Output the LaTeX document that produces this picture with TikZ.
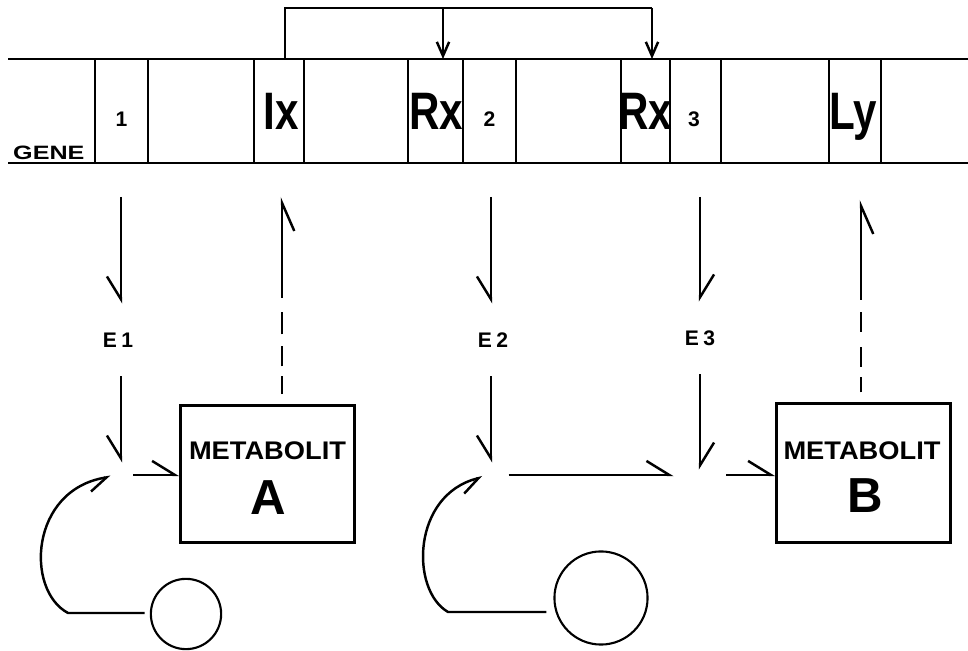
\documentclass[tikz,border=0pt]{standalone}
\usepackage{fontspec}
\setmainfont{Liberation Sans}
\usetikzlibrary{arrows.meta}

\tikzset{
  gene/.style={line width=1.5pt},
  barbL/.style={-{Straight Barb[left,length=13pt,width=16pt]}},
  barbR/.style={-{Straight Barb[right,length=13pt,width=16pt]}},
  loopbarb/.style={-{Straight Barb[right,length=10pt,width=13pt]}},
  upbarb/.style={-{Straight Barb[right,length=16pt,width=14pt]}},
  fullbarb/.style={-{Straight Barb[length=8pt,width=7pt]}},
  bigtag/.style={anchor=base, inner sep=0pt, font=\fontsize{30}{30}\selectfont\bfseries},
  numtag/.style={anchor=base, inner sep=0pt, font=\fontsize{12}{12}\selectfont\bfseries},
  enz/.style={inner sep=0pt, minimum height=40pt, font=\fontsize{12}{12}\selectfont\bfseries},
  metabox/.style={draw, minimum width=99pt, line width=1.4pt},
  metatext/.style={anchor=base, inner sep=0pt, font=\fontsize{14.5}{14.5}\selectfont\bfseries},
  metaletter/.style={anchor=base, inner sep=0pt, font=\fontsize{28}{28}\selectfont\bfseries},
  pool/.style={draw, circle, inner sep=0pt, line width=1.2pt},
}
\newcommand{\narrow}[1]{\scalebox{0.8}[1]{#1}}

\begin{document}
\begin{tikzpicture}[x=0.02cm, y=-0.02cm, line width=1.4pt]
  \useasboundingbox (0,0) rectangle (968,651);

  % gene band
  \draw[gene] (8,59) -- (968,59);
  \draw[gene] (8,163) -- (968,163);
  \foreach \xd in {95,148,254,304,408,463,516,621,670,721,829,881}
    \draw[gene] (\xd,59) -- (\xd,163);

  \node[numtag, anchor=base west, font=\fontsize{11}{11}\selectfont\bfseries] (genetag) at (12,160) {\scalebox{1.3}[1]{GENE}};
  \node[numtag] (g1) at (121.5,127) {1};
  \node[bigtag] (ix) at (281,130) {\narrow{Ix}};
  \node[bigtag] (rxa) at (436,130) {\narrow{Rx}};
  \node[numtag] (g2) at (489.5,127) {2};
  \node[bigtag] (rxb) at (645,130) {\narrow{Rx}};
  \node[numtag] (g3) at (694,127) {3};
  \node[bigtag] (ly) at (853,130) {\narrow{Ly}};

  % regulator bracket on top
  \coordinate (brA) at (285,59);
  \coordinate (brL) at (285,8);
  \coordinate (brM) at (443,8);
  \coordinate (brR) at (652,8);
  \coordinate (rxaTop) at (443,59);
  \coordinate (rxbTop) at (652,59);
  \draw (brA) -- (brL) -- (brR);
  \draw[fullbarb] (brR) -- (rxbTop);
  \draw[fullbarb] (brM) -- (rxaTop);

  % enzymes
  \node[enz] (e1) at (118,340) {E\kern2.5pt 1};
  \node[enz] (e2) at (493,340) {E\kern2.5pt 2};
  \node[enz] (e3) at (700,338) {E\kern2.5pt 3};
  \coordinate (t1) at (121,197);
  \coordinate (t2) at (491,197);
  \coordinate (t3) at (700,197);
  \draw[barbR] (t1) -- (e1.north -| t1);
  \draw[barbR] (t2) -- (e2.north -| t2);
  \draw[barbL] (t3) -- (e3.north);

  % junctions
  \coordinate (j1) at (121,475);
  \coordinate (j2) at (491,475);
  \coordinate (j3) at (700,475);
  \draw[barbR, shorten >=7pt] (e1.south -| j1) -- (j1);
  \draw[barbR, shorten >=7pt] (e2.south -| j2) -- (j2);
  \draw[barbL, shorten >=3pt] (e3.south) -- (j3);

  % metabolites
  \node[metabox, minimum height=78pt] (boxA) at (267.5,474) {};
  \node[metatext] (metA) at (267.5,460) {\scalebox{1.07}[1]{METABOLIT}};
  \node[metaletter] (letA) at (268,515) {A};
  \node[metabox, minimum height=79pt] (boxB) at (863.5,473) {};
  \node[metatext] (metB) at (862,460) {\scalebox{1.07}[1]{METABOLIT}};
  \node[metaletter] (letB) at (865,513) {B};

  \draw[barbL, shorten <=7pt] (j1) -- (boxA.west |- j1);
  \draw[barbL, shorten <=10pt, shorten >=15pt] (j2) -- (j3);
  \draw[barbL, shorten <=15pt] (j3) -- (boxB.west |- j3);

  % feedback from metabolites to the gene band
  \coordinate (mA) at (282,298);
  \coordinate (uA) at (282,197);
  \coordinate (mB) at (861,300);
  \coordinate (uB) at (861,200);
  \draw[shorten <=5.7pt, dash pattern=on 10.2pt off 5.7pt on 11.3pt off 6.8pt on 13pt off 20pt]
    (boxA.north -| mA) -- (mA);
  \draw[upbarb] (mA) -- (uA);
  \draw[shorten <=5.7pt, dash pattern=on 9pt off 5.7pt on 11.3pt off 8.5pt on 11.3pt off 20pt]
    (boxB.north -| mB) -- (mB);
  \draw[upbarb] (mB) -- (uB);

  % precursor pools
  \node[pool, minimum size=40pt] (circA) at (186,614) {};
  \node[pool, minimum size=53pt] (circB) at (601,598) {};
  \coordinate (kA) at (68,613);
  \coordinate (kB) at (448,612);
  \draw[loopbarb, shorten <=3pt, shorten >=6pt]
    (circA.west |- kA) -- (kA) .. controls (25,590) and (30,490) .. (j1);
  \draw[loopbarb, shorten <=4pt, shorten >=5pt]
    (circB.west |- kB) -- (kB) .. controls (410,590) and (412,495) .. (j2);
\end{tikzpicture}
\end{document}
